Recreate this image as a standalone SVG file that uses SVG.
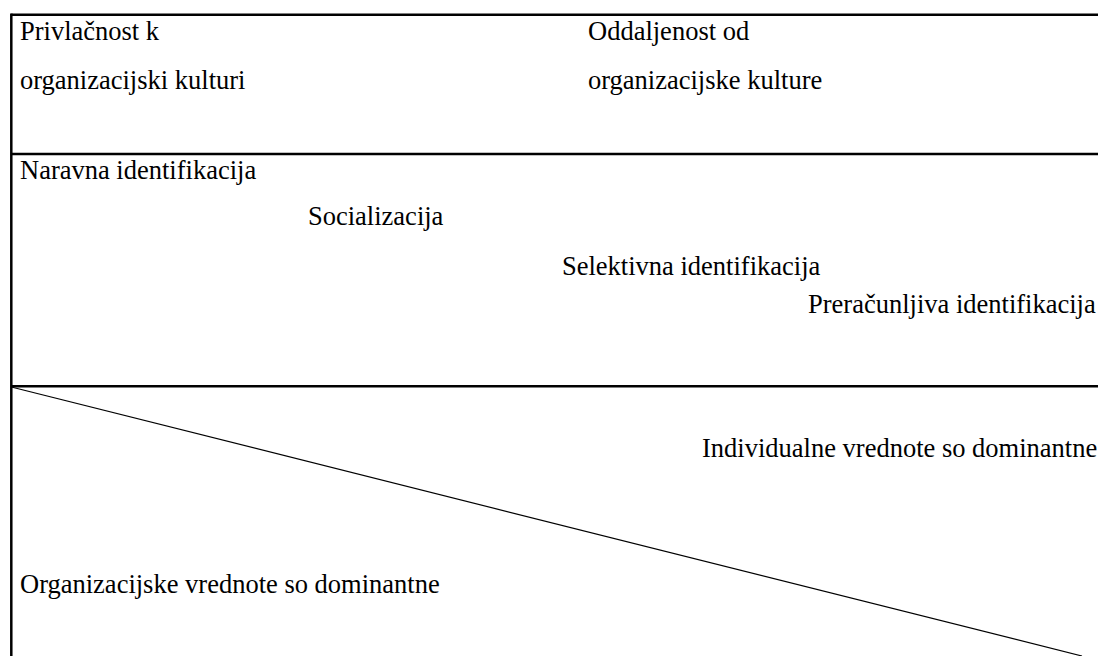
<svg xmlns="http://www.w3.org/2000/svg" width="1098" height="656" viewBox="0 0 1098 656">
<style>
.t{font-family:"Liberation Serif","Times New Roman",serif;font-size:26.5px;fill:#000}
.b{stroke:#000;stroke-width:2.5;fill:none}
.d{stroke:#000;stroke-width:1.2;fill:none}
</style>
<rect width="1098" height="656" fill="#fff"/>
<g id="connectors">
<line class="b" x1="11.3" y1="14.7" x2="1098" y2="14.7"/>
<line class="b" x1="11.3" y1="13.5" x2="11.3" y2="656"/>
<line class="b" x1="11.3" y1="154" x2="1098" y2="154"/>
<line class="b" x1="11.3" y1="386.3" x2="1098" y2="386.3"/>
<line class="d" x1="11.3" y1="387" x2="1082" y2="656"/>
</g>
<g id="privlacnost"><text class="t" x="20" y="40">Privlačnost k</text><text class="t" x="20" y="89">organizacijski kulturi</text></g>
<g id="oddaljenost"><text class="t" x="588" y="40">Oddaljenost od</text><text class="t" x="588" y="89">organizacijske kulture</text></g>
<g id="naravna"><text class="t" x="20" y="179">Naravna identifikacija</text></g>
<g id="socializacija"><text class="t" x="308" y="225">Socializacija</text></g>
<g id="selektivna"><text class="t" x="562" y="275">Selektivna identifikacija</text></g>
<g id="preracunljiva"><text class="t" x="808" y="313">Preračunljiva identifikacija</text></g>
<g id="individualne"><text class="t" x="702" y="457">Individualne vrednote so dominantne</text></g>
<g id="organizacijske"><text class="t" x="20" y="593">Organizacijske vrednote so dominantne</text></g>
</svg>
